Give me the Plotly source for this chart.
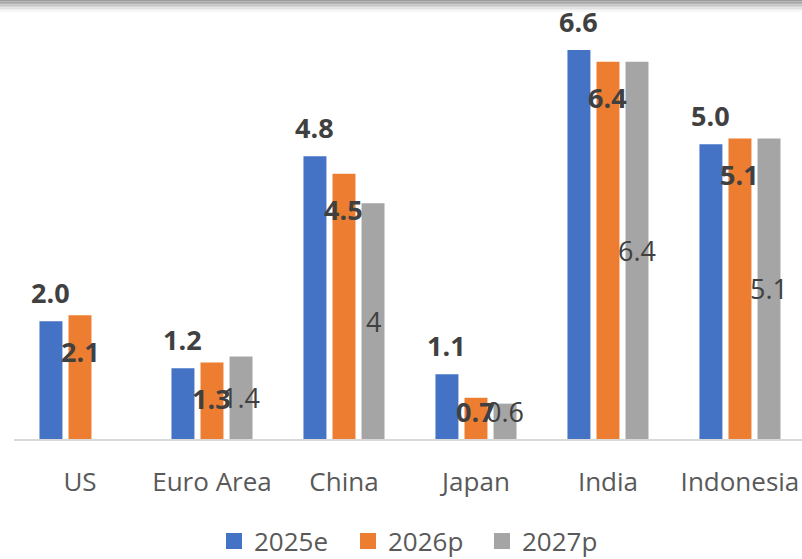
import plotly.graph_objects as go

categories = ["US", "Euro Area", "China", "Japan", "India", "Indonesia"]
series_names = ["2025e", "2026p", "2027p"]
v2025 = [2.0, 1.2, 4.8, 1.1, 6.6, 5.0]
v2026 = [2.1, 1.3, 4.5, 0.7, 6.4, 5.1]
v2027 = [None, 1.4, 4.0, 0.6, 6.4, 5.1]
lbl2025 = ["2.0", "1.2", "4.8", "1.1", "6.6", "5.0"]
lbl2026 = ["2.1", "1.3", "4.5", "0.7", "6.4", "5.1"]
lbl2027 = ["", "1.4", "4", "0.6", "6.4", "5.1"]
colors = ["#4472C4", "#ED7D31", "#A5A5A5"]

W, H = 802, 559
plot_top, plot_bottom = 10, 439
plot_h = plot_bottom - plot_top
ymax = 7.28

pitch = 0.22
bw = 0.174
offsets = [-pitch, 0.0, pitch]
xs = list(range(len(categories)))

fig = go.Figure()
for vals, name, col, off in zip([v2025, v2026, v2027], series_names, colors, offsets):
    fig.add_trace(go.Bar(
        x=xs, y=vals, name=name, width=bw, offset=off - bw / 2,
        marker=dict(color=col, line=dict(width=0)),
        showlegend=False, hoverinfo="skip",
    ))
    fig.add_trace(go.Scatter(
        x=[None], y=[None], mode="markers", name=name,
        marker=dict(symbol="square", size=18, color=col),
        showlegend=True,
    ))

dark = "#404040"
font_family = "Open Sans"
annots = []
for i in xs:
    annots.append(dict(x=i + offsets[0], y=v2025[i], text="<b>%s</b>" % lbl2025[i],
                       showarrow=False, yshift=29, font=dict(size=27, color=dark, family=font_family)))
    annots.append(dict(x=i + offsets[1], y=max(v2026[i] - 0.61, 0.47), text="<b>%s</b>" % lbl2026[i],
                       showarrow=False, font=dict(size=27, color=dark, family=font_family)))
    if v2027[i] is not None:
        annots.append(dict(x=i + offsets[2], y=max(v2027[i] / 2, 0.47), text=lbl2027[i],
                           showarrow=False, font=dict(size=27, color=dark, family=font_family)))

shapes = []
shade = ["#9a9a9a", "#a6a6a6", "#b4b4b4", "#c4c4c4", "#d4d4d4", "#e2e2e2", "#eeeeee", "#f7f7f7"]
for k, c in enumerate(shade):
    p0 = k * 1.5
    p1 = p0 + 1.5
    shapes.append(dict(type="rect", xref="paper", yref="paper",
                       x0=-0.02, x1=1.02,
                       y0=(plot_bottom - p1) / plot_h, y1=(plot_bottom - p0) / plot_h,
                       line=dict(width=0), fillcolor=c, layer="above"))

fig.update_layout(
    width=W, height=H,
    margin=dict(l=14, r=0, t=plot_top, b=H - plot_bottom),
    paper_bgcolor="white", plot_bgcolor="white",
    barmode="overlay",
    font=dict(family=font_family, color="#595959"),
    xaxis=dict(
        range=[-0.5, 5.47], tickvals=xs, ticktext=categories,
        showgrid=False, zeroline=False,
        showline=True, linecolor="#d9d9d9", linewidth=2,
        ticks="", ticklabelstandoff=19,
        tickfont=dict(size=26, color="#595959", family=font_family),
    ),
    yaxis=dict(range=[0, ymax], visible=False, showgrid=False, zeroline=False),
    legend=dict(orientation="h", xref="container", xanchor="left", x=214 / W,
                yref="container", y=1 - 541 / H, yanchor="middle",
                font=dict(size=26, color="#595959", family=font_family),
                itemwidth=30, tracegroupgap=0, entrywidth=89),
    annotations=annots,
    shapes=shapes,
)

fig.write_html("out.html")
